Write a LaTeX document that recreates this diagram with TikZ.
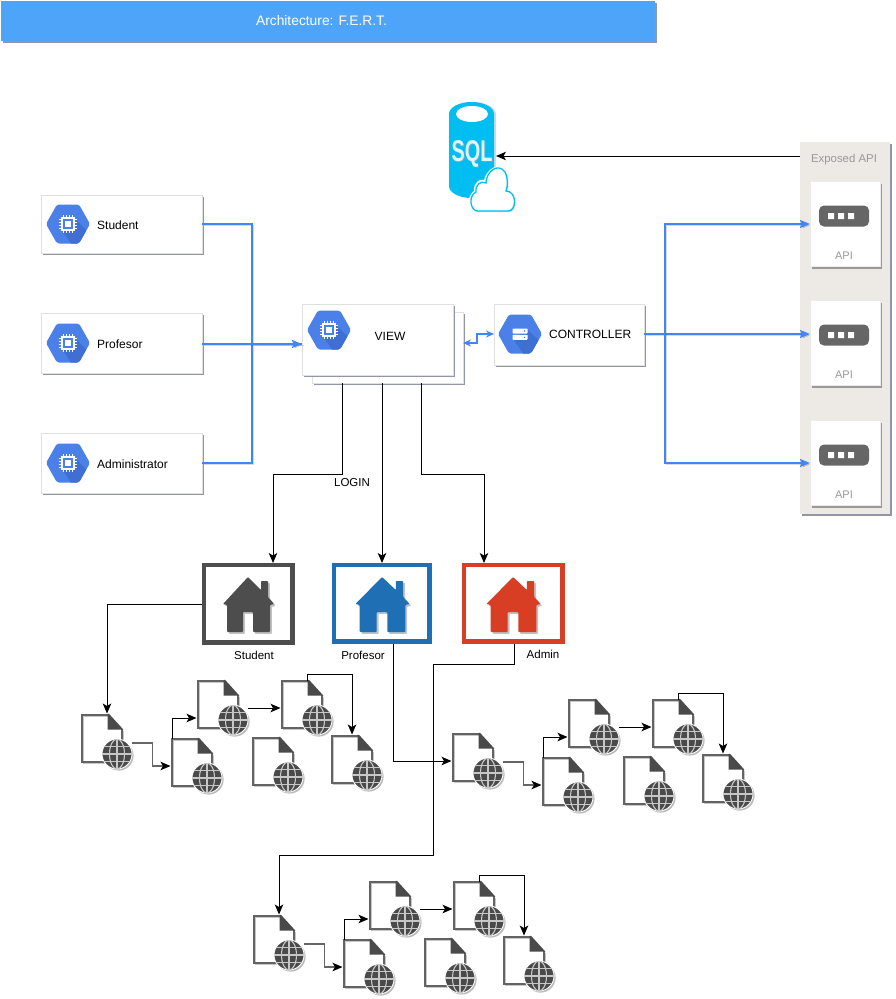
\documentclass[tikz,border=0pt]{standalone}
\usepackage{fontspec}
\setmainfont{Liberation Sans}
\usetikzlibrary{arrows.meta,shadows,calc}
\definecolor{gblue}{HTML}{4A80E8}
\definecolor{gdark}{HTML}{3F6FD2}
\definecolor{linkblue}{HTML}{4285F4}
\definecolor{titleblue}{HTML}{4DA4F8}
\definecolor{sqlc}{HTML}{00BEF2}
\definecolor{panelc}{HTML}{EDEAE6}
\definecolor{docc}{HTML}{636363}
\definecolor{globec}{HTML}{4A4A4A}
\definecolor{homeg}{HTML}{4D4D4D}
\definecolor{homeb}{HTML}{1F6FB5}
\definecolor{homer}{HTML}{D83E23}
\definecolor{shadowc}{HTML}{7F8299}
\tikzset{
  softshadow/.style={drop shadow={shadow xshift=2pt,shadow yshift=-2.4pt,opacity=.85,fill=shadowc}},
  cardbox/.style={draw=black!12,line width=.6pt,fill=white,anchor=north west,inner sep=0pt,outer sep=0pt,softshadow},
  txt/.style={font=\fontsize{12}{14}\selectfont,text=black,inner sep=0pt},
  apitxt/.style={font=\fontsize{11}{13}\selectfont,text=black!40,inner sep=0pt},
  lineshadow/.style={preaction={draw=black,opacity=.14,transform canvas={shift={(1.5pt,-1.5pt)}}}},
  bluelink/.style={draw=linkblue,line width=1.9pt,lineshadow},
  blackarrow/.style={draw=black,line width=1pt,-{Stealth[length=10pt,width=8.5pt,inset=2.5pt]}},
  greyarrow/.style={draw=black!60,line width=1.4pt,-{Stealth[length=10pt,width=8.5pt,inset=2.5pt,color=black]}},
  bluearrow/.style={bluelink,-{Stealth[length=10pt,width=8pt,inset=1.5pt]}},
  homebox/.style={line width=4.5pt,fill=white,anchor=north west,inner sep=0pt,outer sep=0pt,
    drop shadow={shadow xshift=1.8pt,shadow yshift=-1.8pt,opacity=.45,fill=black!60}},
  docline/.style={draw=docc,line width=2.6pt,preaction={draw=black,opacity=.22,transform canvas={shift={(1.6pt,-1.6pt)}}}},
}
\newcommand{\myhexbase}[2]{%
  \begin{scope}[shift={(#1,#2)}]
    \fill[gblue,rounded corners=1.8pt] (-22,0)--(-11,-19.5)--(11,-19.5)--(22,0)--(11,19.5)--(-11,19.5)--cycle;
    \begin{scope}
      \clip[rounded corners=1.8pt] (-22,0)--(-11,-19.5)--(11,-19.5)--(22,0)--(11,19.5)--(-11,19.5)--cycle;
      \fill[gdark] (6,-6)--(30,18)--(10,30)--(-6,6)--cycle;
    \end{scope}
  \end{scope}}
\newcommand{\myhexchip}[2]{%
  \myhexbase{#1}{#2}%
  \begin{scope}[shift={(#1,#2)}]
    \draw[white,line width=1.3pt,fill=gblue] (-6,-6) rectangle (6,6);
    \fill[white] (-3,-3) rectangle (3,3);
    \foreach \p in {-4.5,-1.5,1.5,4.5}{
      \draw[white,line width=.8pt] (\p,-6)--(\p,-9) (\p,6)--(\p,9) (-6,\p)--(-9,\p) (6,\p)--(9,\p);}
  \end{scope}}
\newcommand{\myhexserver}[2]{%
  \myhexbase{#1}{#2}%
  \begin{scope}[shift={(#1,#2)}]
    \fill[white,rounded corners=.6pt] (-7.5,-5.5) rectangle (7.5,-.5);
    \fill[white,rounded corners=.6pt] (-7.5,.8) rectangle (7.5,5.8);
    \fill[gblue] (4.5,-3) circle[radius=.8pt] (4.5,3.3) circle[radius=.8pt];
  \end{scope}}
\newcommand{\myhouse}[3]{%
  \begin{scope}[shift={(#2,577)},xscale=#3]
    \fill[#1,rounded corners=.8pt,drop shadow={shadow xshift=1.8pt,shadow yshift=-1.8pt,opacity=.4,fill=black!60}]
      (0,0)--(13,13)--(13,4)--(20,4)--(20,20)--(26,27)--(22,28)--(22,55)--(5,55)--(5,35)--(-5,35)--(-5,55)--(-21,55)--(-21,28)--(-25,27)--cycle;
  \end{scope}}
\newcommand{\mydoc}[3]{%
  \coordinate (#1in) at ($(#2,#3)+(0,27)$);
  \coordinate (#1top) at ($(#2,#3)+(25,0)$);
  \coordinate (#1tip) at ($(#2,#3)+(20,0)$);
  \begin{scope}[shift={(#2,#3)}]
    \fill[white] (0,0)--(26,0)--(40,14)--(40,47)--(0,47)--cycle;
    \draw[docline,line join=miter] (26,0)--(0,0)--(0,47)--(22,47);
    \draw[docline] (40,14)--(40,30);
    \fill[docc!75!black] (25.5,-1.2)--(27,-1.2)--(41.3,14.5)--(25.5,14.5)--cycle;
    \node[circle,minimum size=30pt,inner sep=0pt,fill=globec,draw=white,line width=.9pt,
      drop shadow={shadow xshift=1.6pt,shadow yshift=-1.6pt,opacity=.45,fill=black!60}] (#1g) at (35,39) {};
    \begin{scope}
      \clip (35,39) circle[radius=15pt];
      \draw[black!22,line width=1.1pt] (35,24)--(35,54) (20,39)--(50,39)
        (22,31.5)--(48,31.5) (22,46.5)--(48,46.5);
      \draw[black!22,line width=1.1pt] (35,39) circle[x radius=7.5pt,y radius=15pt];
    \end{scope}
  \end{scope}}
\newcommand{\mydocgroup}[3]{%
  \mydoc{#1a}{82+#2}{715+#3}
  \mydoc{#1b}{172+#2}{739+#3}
  \mydoc{#1c}{198+#2}{681+#3}
  \mydoc{#1d}{282+#2}{681+#3}
  \mydoc{#1e}{253+#2}{738+#3}
  \mydoc{#1f}{332+#2}{736+#3}
  \draw[greyarrow] ($(#1ag.east)+(0,-11)$) -- ++(20,0) |- ($(#1bin)+(-1.5,0)$);
  \draw[blackarrow] (#1btop -| #1bin) |- ($(#1cin)+(-1.5,10)$);
  \draw[blackarrow] (#1cg.east |- #1din) -- ($(#1din)+(-1.5,0)$);
  \draw[blackarrow] (#1dtop) -- ++(0,-7) -| ($(#1ftip)+(0,-1.5)$);
}
\begin{document}
\begin{tikzpicture}[x=1pt,y=-1pt]
\useasboundingbox (0,0) rectangle (896,999);
\fill[white] (0,0) rectangle (896,999);

\node[fill=titleblue,minimum width=654pt,minimum height=40pt,anchor=north west,inner sep=0pt,outer sep=0pt,softshadow] (title) at (1,1) {};
\node[text=white,font=\fontsize{13.8}{16}\selectfont,inner sep=0pt] (titletext) at (321.5,21) {Architecture: F.E.R.T.};

\node[fill=panelc,minimum width=90pt,minimum height=372pt,anchor=north west,inner sep=0pt,outer sep=0pt,softshadow] (panel) at (800,142) {};
\node[apitxt,font=\fontsize{11.4}{13}\selectfont] (paneltitle) at (844,160) {Exposed API};
\foreach \n/\yy in {api1/181.5,api2/300.5,api3/420.5}{
  \node[draw=black!8,line width=.4pt,fill=white,anchor=north west,minimum width=70pt,minimum height=85pt,inner sep=0pt,outer sep=0pt,
    drop shadow={shadow xshift=1.8pt,shadow yshift=-2pt,opacity=.6,fill=black!60}] (\n) at (810,\yy) {};
  \fill[black!60,rounded corners=5pt] (819,\yy+24) rectangle (869,\yy+45);
  \fill[white] (828,\yy+31.5) rectangle (834,\yy+37.5) (838,\yy+31.5) rectangle (844,\yy+37.5) (848,\yy+31.5) rectangle (854,\yy+37.5);
  \node[apitxt] (\n label) at (844,\yy+74.5) {API};
}

\fill[black!30,opacity=.5] (473.5,114) circle[x radius=22.5pt,y radius=12pt] (451,114) rectangle (496,186) (473.5,186) circle[x radius=22.5pt,y radius=12pt];
\fill[sqlc] (471.5,114) circle[x radius=22.5pt,y radius=12pt] (449,114) rectangle (494,186) (471.5,186) circle[x radius=22.5pt,y radius=12pt];
\fill[white] (472,114) circle[x radius=16pt,y radius=8pt];
\node[text=black!35,opacity=.5,font=\bfseries\fontsize{30}{32}\selectfont,inner sep=0pt] (sqlsh) at (473,155) {\scalebox{.66}[1]{SQL}};
\node[text=white!88!cyan,font=\bfseries\fontsize{30}{32}\selectfont,inner sep=0pt] (sql) at (472,154) {\scalebox{.66}[1]{SQL}};
\fill[white] (478,213) .. controls (467,213) and (466,196) .. (474,191)
  .. controls (473,183) and (480,178) .. (484,180)
  .. controls (486,170) and (499,160) .. (507,171)
  .. controls (510,177) and (510,184) .. (508,189)
  .. controls (520,191) and (519,213) .. (508,213) -- cycle;
\draw[sqlc,line width=1.3pt,fill=white,drop shadow={shadow xshift=1pt,shadow yshift=-1.2pt,opacity=.3,fill=black!60}]
  (478,211) .. controls (470,211) and (468,196) .. (476,192)
  .. controls (475,185) and (481,180) .. (486,183)
  .. controls (486,172) and (498,162) .. (505,172)
  .. controls (508,177) and (508,186) .. (506,191)
  .. controls (517,191) and (517,211) .. (508,211) -- cycle;
\coordinate (sqlin) at (496,156);
\coordinate (panelin) at (800,156);
\draw[blackarrow] (panelin) -- (sqlin);

\node[cardbox,minimum width=161pt,minimum height=58pt] (student) at (41,195) {};
\node[cardbox,minimum width=161pt,minimum height=60pt] (profesor) at (41,313) {};
\node[cardbox,minimum width=161pt,minimum height=60pt] (administrator) at (41,433) {};
\myhexchip{68}{224}
\myhexchip{68}{343}
\myhexchip{68}{463}
\node[txt,anchor=west] (studenttxt) at (97,225) {Student};
\node[txt,anchor=west] (profesortxt) at (97,344) {Profesor};
\node[txt,anchor=west] (admintxt) at (97,464) {Administrator};

\node[cardbox,minimum width=151pt,minimum height=71pt] (viewback) at (312,312) {};
\node[cardbox,minimum width=151pt,minimum height=71pt] (view) at (302,304) {};
\myhexchip{329}{330}
\node[txt] (viewtxt) at (390,336) {VIEW};

\node[cardbox,minimum width=150pt,minimum height=61pt] (controller) at (494,304) {};
\myhexserver{520}{334}
\node[txt,anchor=west] (controllertxt) at (549,334.5) {CONTROLLER};

\coordinate (viewin) at (302,344);
\coordinate (bus) at (252,344);
\coordinate (viewout) at (463,343);
\coordinate (ctrlin) at (494,334);
\coordinate (ctrlbus) at (665,334);
\draw[bluelink] (student.east) -| (bus) -- (viewin);
\draw[bluelink] (administrator.east) -| (bus);
\draw[bluearrow] (profesor.east |- viewin) -- (viewin);
\draw[draw=linkblue,line width=1.6pt,{Stealth[length=8pt,width=7pt]}-{Stealth[length=8pt,width=7pt]}]
  (viewout) -- ++(14,0) -- ++(0,-9) -- (ctrlin);
\draw[bluearrow] (controller.east |- ctrlbus) -- (api2.west |- ctrlbus);
\draw[bluearrow] (ctrlbus) |- (api1.west);
\draw[bluearrow] (ctrlbus) |- (api3.west);

\node[homebox,draw=homeg,minimum width=88.5pt,minimum height=77.5pt] (homes) at (204,565.2) {};
\node[homebox,draw=homeb,minimum width=95.5pt,minimum height=76.5pt] (homep) at (334.2,565.2) {};
\node[homebox,draw=homer,minimum width=98.5pt,minimum height=76.5pt] (homea) at (464.2,565.2) {};
\myhouse{homeg}{248}{1}
\myhouse{homeb}{382}{1.06}
\myhouse{homer}{513}{1.06}
\node[txt,font=\fontsize{11.5}{14}\selectfont] (homestxt) at (254,655) {Student};
\node[txt,font=\fontsize{11.5}{14}\selectfont] (homeptxt) at (363,655) {Profesor};
\node[txt,font=\fontsize{11.5}{14}\selectfont] (homeatxt) at (543,654) {Admin};

\coordinate (v1) at (342,383);
\coordinate (v2) at (382,383);
\coordinate (v3) at (421,383);
\coordinate (h1) at (273,563);
\coordinate (h2) at (382,563);
\coordinate (h3) at (484,563);
\draw[blackarrow] (v1) -- (342,474) -| (h1);
\draw[blackarrow] (v2) -- (h2);
\draw[blackarrow] (v3) -- (421,474) -| (h3);
\node[txt,font=\fontsize{11.5}{14}\selectfont] (logintxt) at (352,483) {LOGIN};

\mydocgroup{g}{0}{0}
\mydocgroup{p}{371}{19}
\mydocgroup{q}{172}{201}

\coordinate (hs) at (202,604);
\coordinate (hp) at (393,644);
\coordinate (ha) at (514,644);
\draw[blackarrow] (hs) -| ($(gatop)+(0,-1.5)$);
\draw[blackarrow] (hp) |- ($(pain)+(-1.5,0)$);
\draw[blackarrow] (ha) -- (514,664) -- (433,664) -- (433,855) -| ($(qatop)+(0,-1.5)$);
\end{tikzpicture}
\end{document}
